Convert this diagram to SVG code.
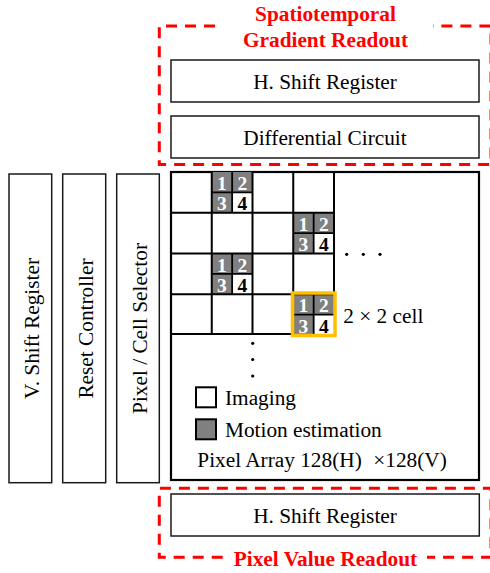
<svg xmlns="http://www.w3.org/2000/svg" xmlns:xlink="http://www.w3.org/1999/xlink" width="490" height="573" viewBox="0 0 490 573">
<style>
.box{fill:#fff;stroke:#1a1a1a;stroke-width:1.5}
.t{font-family:"Liberation Serif","Times New Roman",serif;font-size:21.3px;fill:#000}
.c{text-anchor:middle}
.red{font-family:"Liberation Serif","Times New Roman",serif;font-size:21.3px;font-weight:bold;fill:#ff0000;text-anchor:middle}
.dash{fill:none;stroke:#ff0000;stroke-width:3;stroke-dasharray:11 8}
.grid{stroke:#000;stroke-width:2;fill:none}
.num{font-family:"Liberation Serif","Times New Roman",serif;font-size:19.5px;font-weight:bold;text-anchor:middle}
</style>
<defs>
<g id="cell">
<rect x="0" y="0" width="20.4" height="20.4" fill="#808080"/>
<rect x="20.4" y="0" width="20.4" height="20.4" fill="#808080"/>
<rect x="0" y="20.4" width="20.4" height="20.4" fill="#808080"/>
<rect x="20.4" y="20.4" width="20.4" height="20.4" fill="#fff"/>
<path d="M20.4 0V40.75M0 20.4H40.75" stroke="#000" stroke-width="1.8"/>
<text class="num" x="10.2" y="18" fill="#fff">1</text>
<text class="num" x="30.6" y="18" fill="#fff">2</text>
<text class="num" x="10.2" y="38.4" fill="#fff">3</text>
<text class="num" x="30.6" y="38.4" fill="#000">4</text>
</g>
</defs>
<rect width="490" height="573" fill="#fff"/>

<g id="gradient-readout">
<path class="dash" d="M215 26H159.3V164.5H491V26H433"/>
<text class="red" x="325.5" y="21">Spatiotemporal</text>
<text class="red" x="325.5" y="47">Gradient Readout</text>
</g>
<g id="h-shift-top">
<rect class="box" x="171" y="60" width="308" height="42"/>
<text class="t c" x="325" y="88.5">H. Shift Register</text>
</g>
<g id="differential">
<rect class="box" x="171" y="116" width="308" height="42"/>
<text class="t c" x="325" y="145">Differential Circuit</text>
</g>

<g id="v-shift">
<rect class="box" x="9" y="174" width="42.7" height="308.7"/>
<text class="t c" transform="translate(30.3,328.5) rotate(-90)" x="0" y="9">V. Shift Register</text>
</g>
<g id="reset">
<rect class="box" x="62.7" y="174" width="43" height="308.7"/>
<text class="t c" transform="translate(84.2,328.5) rotate(-90)" x="0" y="8.5">Reset Controller</text>
</g>
<g id="selector">
<rect class="box" x="116.7" y="174" width="42.6" height="308.7"/>
<text class="t c" transform="translate(138,328.5) rotate(-90)" x="0" y="8.5">Pixel / Cell Selector</text>
</g>

<g id="pixel-array">
<rect x="171" y="172" width="308" height="308" fill="#fff" stroke="#000" stroke-width="2.2"/>
<use xlink:href="#cell" x="211.75" y="172"/>
<use xlink:href="#cell" x="293.25" y="212.75"/>
<use xlink:href="#cell" x="211.75" y="253.5"/>
<use xlink:href="#cell" x="293.25" y="294.25"/>
<path class="grid" d="M211.75 172V334M252.5 172V334M293.25 172V293M334 172V293M171 212.75H334M171 253.5H334M171 294.25H334M171 334H293"/>
<rect x="292.5" y="293" width="42.5" height="42.5" fill="none" stroke="#ffc000" stroke-width="3.5"/>
<g fill="#000">
<circle cx="346.7" cy="254.3" r="1.6"/>
<circle cx="363.3" cy="254.3" r="1.6"/>
<circle cx="380" cy="254.3" r="1.6"/>
<circle cx="252.7" cy="343.3" r="1.6"/>
<circle cx="252.7" cy="359.5" r="1.6"/>
<circle cx="252.7" cy="376" r="1.6"/>
</g>
<text class="t" x="343.3" y="322.7">2 × 2 cell</text>
<rect x="196" y="387.3" width="20" height="20" fill="#fff" stroke="#000" stroke-width="2"/>
<text class="t" x="225" y="405">Imaging</text>
<rect x="196" y="419.3" width="20" height="20" fill="#808080" stroke="#000" stroke-width="2"/>
<text class="t" x="225" y="436.7">Motion estimation</text>
<text class="t" x="197.3" y="467">Pixel Array 128(H)</text>
<text class="t" x="373.3" y="467">×128(V)</text>
</g>

<g id="value-readout">
<path class="dash" d="M222.7 557.3H159.3V488.3H491V557.3H427"/>
<text class="red" x="325.5" y="566">Pixel Value Readout</text>
</g>
<g id="h-shift-bottom">
<rect class="box" x="171" y="494" width="308.3" height="42"/>
<text class="t c" x="325" y="522.7">H. Shift Register</text>
</g>
</svg>
